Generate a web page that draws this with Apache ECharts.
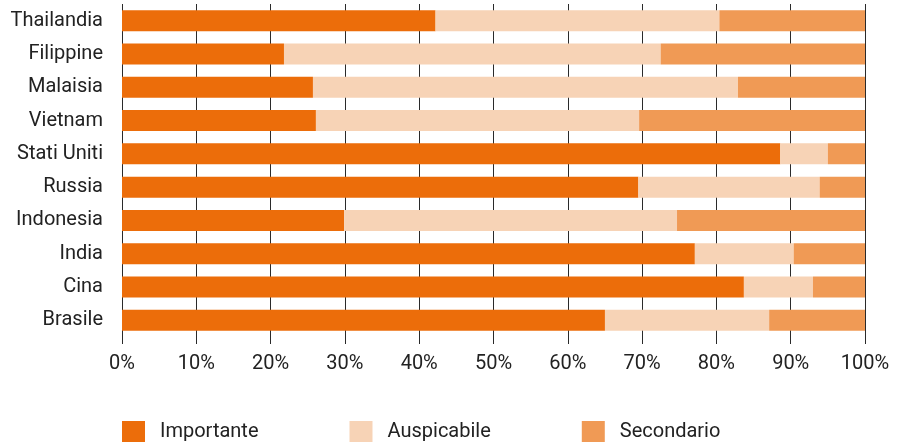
<!DOCTYPE html>
<html>
<head>
<meta charset="utf-8">
<script src="https://cdn.jsdelivr.net/npm/echarts@6/dist/echarts.min.js"></script>
<style>
  html, body { margin: 0; padding: 0; background: #fff; }
  #chart { width: 903px; height: 446px; }
</style>
</head>
<body>
<div id="chart"></div>
<script>
// countries, top to bottom
const countries = ['Thailandia', 'Filippine', 'Malaisia', 'Vietnam', 'Stati Uniti',
  'Russia', 'Indonesia', 'India', 'Cina', 'Brasile']
// shares in %
const importante = [42.2, 21.8, 25.7, 26.1, 88.6, 69.5, 29.9, 77.1, 83.7, 65.0]
const auspicabile = [38.2, 50.7, 57.2, 43.5, 6.4, 24.4, 44.8, 13.3, 9.3, 22.1]
const secondario = [19.6, 27.5, 17.1, 30.4, 5.0, 6.1, 25.3, 9.6, 7.0, 12.9]
const seriesNames = ['Importante', 'Auspicabile', 'Secondario']
const colors = ['#ec6d0a', '#f7d3b6', '#f09a55']

const font = 'Roboto'
const chart = echarts.init(document.getElementById('chart'))

function barSeries(name, data, color) {
  return {
    name: name,
    type: 'bar',
    stack: 'tot',
    barWidth: 21,
    data: data,
    itemStyle: { color: color },
    emphasis: { disabled: true },
    animation: false
  }
}

chart.setOption({
  animation: false,
  textStyle: { fontFamily: font },
  grid: {
    left: 122,
    right: 38,
    top: 4,
    bottom: 109
  },
  legend: {
    left: 122,
    top: 421,
    padding: 0,
    itemWidth: 23,
    itemHeight: 21,
    itemGap: 91,
    icon: 'rect',
    selectedMode: false,
    data: seriesNames,
    textStyle: {
      fontFamily: font,
      fontSize: 20,
      color: '#222',
      padding: [0, 0, 0, 10]
    }
  },
  xAxis: {
    type: 'value',
    min: 0,
    max: 100,
    interval: 10,
    axisLine: { show: false },
    axisTick: {
      show: true,
      length: 7,
      lineStyle: { color: '#2a2a2a', width: 1 }
    },
    splitLine: {
      show: true,
      lineStyle: { color: '#2a2a2a', width: 1 }
    },
    axisLabel: {
      formatter: '{value}%',
      fontSize: 20,
      color: '#222',
      margin: 17,
      fontFamily: font
    }
  },
  yAxis: {
    type: 'category',
    inverse: true,
    data: countries,
    axisLine: { show: false },
    axisTick: { show: false },
    axisLabel: {
      fontSize: 20,
      color: '#222',
      margin: 19,
      fontFamily: font
    }
  },
  series: [
    barSeries(seriesNames[0], importante, colors[0]),
    barSeries(seriesNames[1], auspicabile, colors[1]),
    barSeries(seriesNames[2], secondario, colors[2])
  ]
})
</script>
</body>
</html>
